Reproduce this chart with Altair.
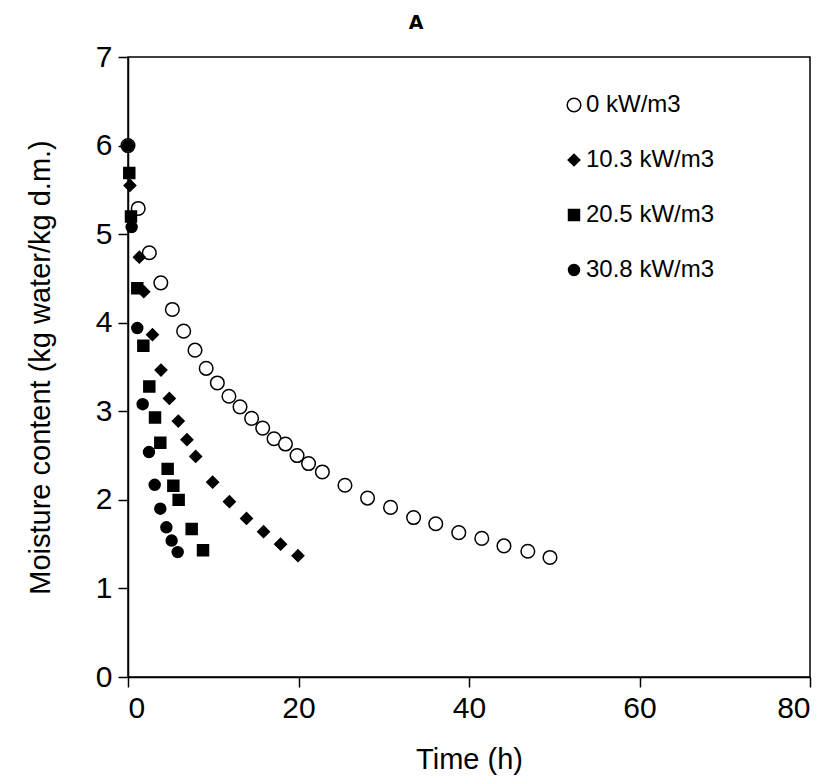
import altair as alt
import pandas as pd

series_names = ["0 kW/m3", "10.3 kW/m3", "20.5 kW/m3", "30.8 kW/m3"]

t_0 = [0.0, 1.2, 2.5, 3.85, 5.2, 6.53, 7.86, 9.17, 10.48, 11.84, 13.14, 14.5, 15.8, 17.13,
       18.47, 19.83, 21.18, 22.8, 25.45, 28.1, 30.8, 33.5, 36.1, 38.8, 41.5, 44.1, 46.9, 49.5]
m_0 = [6.0, 5.29, 4.79, 4.45, 4.15, 3.905, 3.69, 3.485, 3.32, 3.17, 3.05, 2.92, 2.81, 2.69,
       2.63, 2.50, 2.41, 2.315, 2.165, 2.02, 1.915, 1.80, 1.73, 1.63, 1.565, 1.48, 1.42, 1.35]

t_10 = [0.23, 1.33, 1.85, 2.87, 3.87, 4.85, 5.9, 6.92, 7.94, 9.93, 11.9, 13.9, 15.9, 17.9, 19.94]
m_10 = [5.55, 4.74, 4.35, 3.865, 3.465, 3.145, 2.89, 2.68, 2.49, 2.20, 1.98, 1.79, 1.64, 1.50, 1.37]

t_20 = [0.15, 0.35, 1.09, 1.8, 2.5, 3.17, 3.79, 4.65, 5.32, 5.94, 7.47, 8.8]
m_20 = [5.69, 5.20, 4.39, 3.74, 3.28, 2.93, 2.645, 2.35, 2.16, 2.0, 1.67, 1.43]

t_30 = [0.0, 0.43, 1.09, 1.72, 2.46, 3.13, 3.79, 4.5, 5.12, 5.83]
m_30 = [6.0, 5.08, 3.94, 3.08, 2.54, 2.17, 1.90, 1.69, 1.54, 1.41]

marker_shapes = ["circle", "diamond", "square", "circle"]
marker_fills = ["white", "black", "black", "black"]
marker_sizes = [185, 135, 120, 120]

rows = []
for name, ts, ms in zip(series_names, [t_0, t_10, t_20, t_30], [m_0, m_10, m_20, m_30]):
    for t, m in zip(ts, ms):
        rows.append({"series": name, "time": t, "moisture": m})
df = pd.DataFrame(rows)
df["order"] = df["series"].map({n: i for i, n in enumerate(series_names)})

FONT = "Liberation Sans"
TITLE_FONT = "DejaVu Sans"

legend = alt.Legend(title=None, symbolStrokeColor="black", symbolStrokeWidth=1.5)

chart = alt.Chart(df).mark_point(filled=True, strokeWidth=1.5, opacity=1).encode(
    x=alt.X("time:Q", title="Time (h)",
            scale=alt.Scale(domain=[0, 80], nice=False),
            axis=alt.Axis(values=[0, 20, 40, 60, 80])),
    y=alt.Y("moisture:Q", title="Moisture content (kg water/kg d.m.)",
            scale=alt.Scale(domain=[0, 7], nice=False),
            axis=alt.Axis(values=[0, 1, 2, 3, 4, 5, 6, 7])),
    shape=alt.Shape("series:N", legend=legend,
                    scale=alt.Scale(domain=series_names, range=marker_shapes)),
    fill=alt.Fill("series:N", legend=legend,
                  scale=alt.Scale(domain=series_names, range=marker_fills)),
    stroke=alt.Stroke("series:N", legend=legend,
                      scale=alt.Scale(domain=series_names,
                                      range=["black", "black", "black", "black"])),
    size=alt.Size("series:N", legend=legend,
                  scale=alt.Scale(type="ordinal", domain=series_names, range=marker_sizes)),
    order=alt.Order("order:Q"),
).properties(
    width=682,
    height=620,
    title=alt.TitleParams("A", fontSize=19, fontWeight="bold", font=TITLE_FONT,
                          color="black", offset=9, anchor="middle", dx=-53),
    autosize=alt.AutoSizeParams(type="none"),
    padding={"left": 120, "top": 49, "right": 10, "bottom": 115},
).configure_title(
    fontSize=19, fontWeight="bold", font=TITLE_FONT, color="black",
).configure_view(
    stroke="black", strokeWidth=1.5
).configure_axis(
    grid=False,
    domainColor="black", domainWidth=1.5,
    tickColor="black", tickWidth=1.5, tickSize=10,
    labelFont=FONT, labelFontSize=30, labelColor="black", labelPadding=6,
    titleFont=FONT, titleFontSize=29, titleColor="black", titleFontWeight="normal",
).configure_axisX(
    titlePadding=22,
).configure_axisY(
    titlePadding=40,
).configure_legend(
    orient="none", legendX=434, legendY=36,
    labelFont=FONT, labelFontSize=24, labelColor="black",
    rowPadding=31, labelOffset=0, padding=0,
)

chart.save("out.html", embed_options={"renderer": "svg", "actions": False})
